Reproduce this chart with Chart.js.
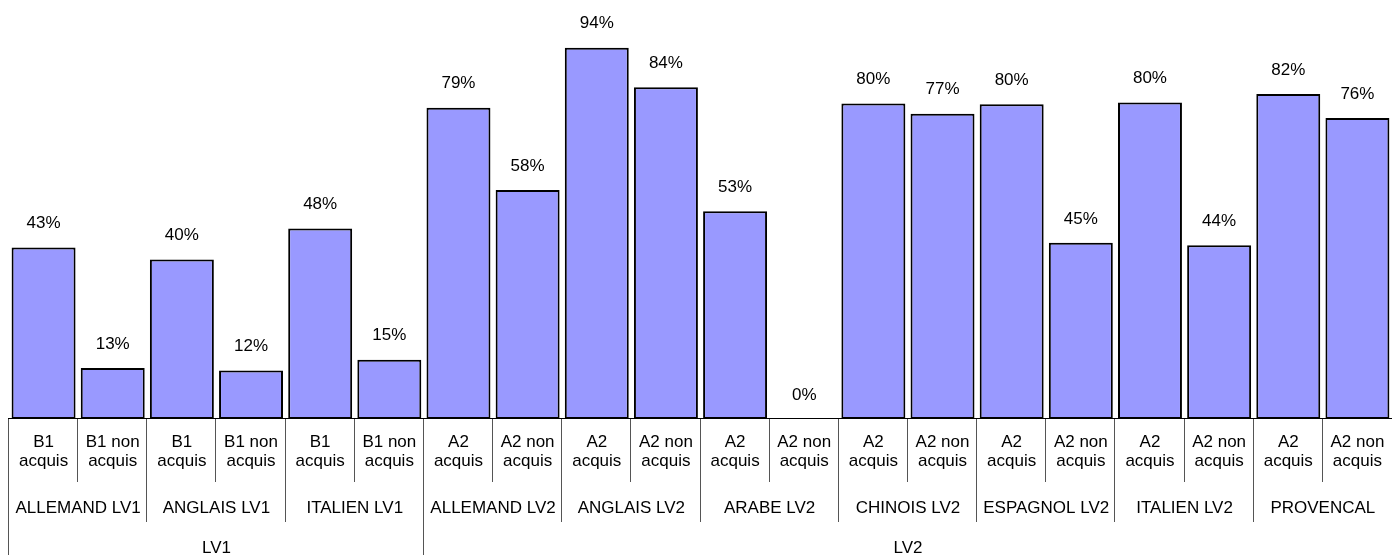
<!DOCTYPE html>
<html>
<head>
<meta charset="utf-8">
<script src="https://cdn.jsdelivr.net/npm/chart.js@4"></script>
<style>
html,body{margin:0;padding:0;background:#fff;}
canvas{display:block;}
</style>
</head>
<body>
<canvas id="c" width="1392" height="555"></canvas>
<script>
const categories = [
  ["B1","acquis"],["B1 non","acquis"],
  ["B1","acquis"],["B1 non","acquis"],
  ["B1","acquis"],["B1 non","acquis"],
  ["A2","acquis"],["A2 non","acquis"],
  ["A2","acquis"],["A2 non","acquis"],
  ["A2","acquis"],["A2 non","acquis"],
  ["A2","acquis"],["A2 non","acquis"],
  ["A2","acquis"],["A2 non","acquis"],
  ["A2","acquis"],["A2 non","acquis"],
  ["A2","acquis"],["A2 non","acquis"]
];
const values = [43.4,12.9,40.4,12.3,48.2,15.0,78.8,58.0,94.0,84.0,52.6,0,79.9,77.3,79.7,44.6,80.1,44.0,82.3,76.2];
const groups = ["ALLEMAND LV1","ANGLAIS LV1","ITALIEN LV1","ALLEMAND LV2","ANGLAIS LV2","ARABE LV2","CHINOIS LV2","ESPAGNOL LV2","ITALIEN LV2","PROVENCAL"];
const groupSizes = [2,2,2,2,2,2,2,2,2,2];
const levels = ["LV1","LV2"];
const levelSizes = [6,14];

const FONT = '17px "Liberation Sans", Arial, sans-serif';

const overlay = {
  id: 'overlay',
  afterDatasetsDraw(chart) {
    const ctx = chart.ctx;
    const x = chart.scales.x;
    const area = chart.chartArea;
    const meta = chart.getDatasetMeta(0);
    const n = categories.length;
    const edge = i => (i <= 0) ? area.left : (i >= n ? area.right : (x.getPixelForValue(i - 1) + x.getPixelForValue(i)) / 2);
    ctx.save();
    // data labels
    ctx.font = FONT;
    ctx.fillStyle = '#000';
    ctx.textAlign = 'center';
    ctx.textBaseline = 'middle';
    meta.data.forEach((bar, i) => {
      ctx.fillText(Math.round(values[i]) + '%', bar.x, bar.y - 24);
    });
    // baseline
    const base = area.bottom;
    ctx.strokeStyle = '#000';
    ctx.lineWidth = 1;
    ctx.beginPath();
    ctx.moveTo(area.left - 1, Math.round(base) - 0.5);
    ctx.lineTo(area.right, Math.round(base) - 0.5);
    ctx.stroke();
    // separators
    const groupEdges = new Set();
    let acc = 0;
    groupSizes.forEach(s => { acc += s; groupEdges.add(acc); });
    const levelEdges = new Set([0]);
    acc = 0;
    levelSizes.forEach(s => { acc += s; levelEdges.add(acc); });
    ctx.strokeStyle = '#555';
    for (let i = 0; i < n; i++) {
      let bottom = base + 63;
      if (groupEdges.has(i)) bottom = base + 103;
      if (levelEdges.has(i)) bottom = chart.height;
      const px = Math.round(edge(i)) - 0.5;
      ctx.beginPath();
      ctx.moveTo(px, base);
      ctx.lineTo(px, bottom);
      ctx.stroke();
    }
    // category labels
    ctx.fillStyle = '#000';
    categories.forEach((lines, i) => {
      const cx = x.getPixelForValue(i);
      lines.forEach((t, k) => ctx.fillText(t, cx, base + 23 + k * 19));
    });
    // group labels
    let start = 0;
    groups.forEach((g, gi) => {
      const end = start + groupSizes[gi];
      const cx = (edge(start) + edge(end)) / 2;
      ctx.fillText(g, cx, base + 89);
      start = end;
    });
    start = 0;
    levels.forEach((l, li) => {
      const end = start + levelSizes[li];
      const cx = (edge(start) + edge(end)) / 2;
      ctx.fillText(l, cx, base + 129);
      start = end;
    });
    ctx.restore();
  }
};

new Chart(document.getElementById('c'), {
  type: 'bar',
  data: {
    labels: categories,
    datasets: [{
      data: values,
      backgroundColor: '#9999FF',
      borderColor: '#000',
      borderWidth: 2,
      borderSkipped: false,
      barPercentage: 0.925,
      categoryPercentage: 1.0
    }]
  },
  options: {
    responsive: false,
    animation: false,
    layout: { padding: { left: 9, right: 0, top: 24, bottom: 136 } },
    plugins: { legend: { display: false }, tooltip: { enabled: false } },
    scales: {
      x: { display: false },
      y: { display: false, min: 0, max: 100 }
    }
  },
  plugins: [overlay]
});
</script>
</body>
</html>
